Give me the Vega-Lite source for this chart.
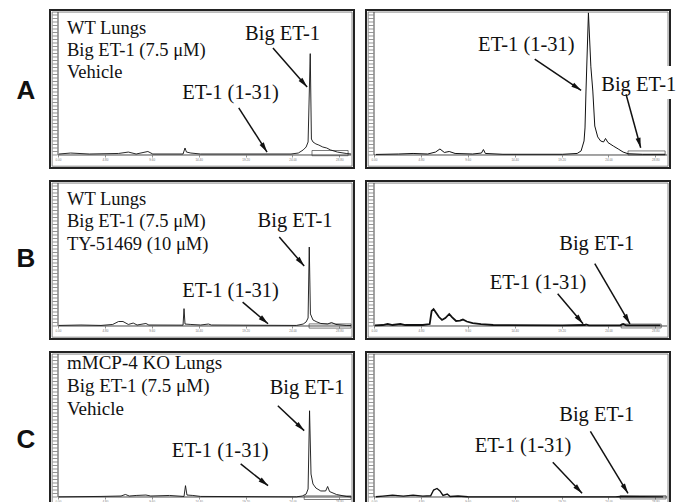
{
"$schema":"https://vega.github.io/schema/vega-lite/v6.json",
"padding":{"left":15,"top":9,"right":0,"bottom":0},
"background":"white",
"config":{"view":{"stroke":"#222","strokeWidth":2}},
"datasets":{
"inner":[{"x1":-0.6,"x2":30.1,"y1":-8.0,"y2":102.1}],
"axlines":[{"x1":0,"y1":0,"x2":30,"y2":0},{"x1":0,"y1":0,"x2":0,"y2":102.1}],
"yticks":[{"x1":-0.55,"x2":-0.05,"u":0},{"x1":-0.55,"x2":-0.05,"u":2.5},{"x1":-0.55,"x2":-0.05,"u":5},{"x1":-0.55,"x2":-0.05,"u":7.5},{"x1":-0.55,"x2":-0.05,"u":10},{"x1":-0.55,"x2":-0.05,"u":12.5},{"x1":-0.55,"x2":-0.05,"u":15},{"x1":-0.55,"x2":-0.05,"u":17.5},{"x1":-0.55,"x2":-0.05,"u":20},{"x1":-0.55,"x2":-0.05,"u":22.5},{"x1":-0.55,"x2":-0.05,"u":25},{"x1":-0.55,"x2":-0.05,"u":27.5},{"x1":-0.55,"x2":-0.05,"u":30},{"x1":-0.55,"x2":-0.05,"u":32.5},{"x1":-0.55,"x2":-0.05,"u":35},{"x1":-0.55,"x2":-0.05,"u":37.5},{"x1":-0.55,"x2":-0.05,"u":40},{"x1":-0.55,"x2":-0.05,"u":42.5},{"x1":-0.55,"x2":-0.05,"u":45},{"x1":-0.55,"x2":-0.05,"u":47.5},{"x1":-0.55,"x2":-0.05,"u":50},{"x1":-0.55,"x2":-0.05,"u":52.5},{"x1":-0.55,"x2":-0.05,"u":55},{"x1":-0.55,"x2":-0.05,"u":57.5},{"x1":-0.55,"x2":-0.05,"u":60},{"x1":-0.55,"x2":-0.05,"u":62.5},{"x1":-0.55,"x2":-0.05,"u":65},{"x1":-0.55,"x2":-0.05,"u":67.5},{"x1":-0.55,"x2":-0.05,"u":70},{"x1":-0.55,"x2":-0.05,"u":72.5},{"x1":-0.55,"x2":-0.05,"u":75},{"x1":-0.55,"x2":-0.05,"u":77.5},{"x1":-0.55,"x2":-0.05,"u":80},{"x1":-0.55,"x2":-0.05,"u":82.5},{"x1":-0.55,"x2":-0.05,"u":85},{"x1":-0.55,"x2":-0.05,"u":87.5},{"x1":-0.55,"x2":-0.05,"u":90},{"x1":-0.55,"x2":-0.05,"u":92.5},{"x1":-0.55,"x2":-0.05,"u":95},{"x1":-0.55,"x2":-0.05,"u":97.5},{"x1":-0.55,"x2":-0.05,"u":100}],
"trAL":[{"t":0.1,"u":0.7},{"t":1.3,"u":1.4},{"t":3.2,"u":0.7},{"t":6.2,"u":1.1},{"t":7.2,"u":2.1},{"t":8.0,"u":0.7},{"t":9.2,"u":2.5},{"t":9.7,"u":0.7},{"t":12.8,"u":0.7},{"t":13.0,"u":5.0},{"t":13.15,"u":2.1},{"t":13.6,"u":1.4},{"t":14.6,"u":0.7},{"t":23.85,"u":0.7},{"t":24.6,"u":1.4},{"t":25.1,"u":3.6},{"t":25.4,"u":5.7},{"t":25.6,"u":9.3},{"t":25.82,"u":72.4},{"t":25.94,"u":11.4},{"t":26.1,"u":9.3},{"t":26.4,"u":7.9},{"t":26.7,"u":7.1},{"t":27.1,"u":5.7},{"t":27.5,"u":5.0},{"t":27.9,"u":3.6},{"t":28.6,"u":2.1},{"t":29.5,"u":1.1},{"t":30.0,"u":0.7}],
"trAR":[{"t":0.2,"u":0.4},{"t":2.5,"u":0.7},{"t":4.0,"u":1.1},{"t":5.5,"u":0.7},{"t":6.3,"u":2.1},{"t":6.75,"u":4.3},{"t":7.2,"u":1.8},{"t":7.7,"u":2.5},{"t":8.3,"u":1.1},{"t":10.1,"u":0.7},{"t":11.0,"u":1.4},{"t":11.2,"u":3.9},{"t":11.4,"u":1.1},{"t":13.2,"u":0.5},{"t":19.3,"u":0.5},{"t":20.8,"u":1.1},{"t":21.2,"u":2.9},{"t":21.5,"u":10},{"t":21.6,"u":19.3},{"t":21.7,"u":45.7},{"t":21.95,"u":101.5},{"t":22.2,"u":63},{"t":22.4,"u":45.7},{"t":22.6,"u":20.7},{"t":22.9,"u":12.9},{"t":23.2,"u":10},{"t":23.5,"u":9.3},{"t":23.7,"u":11.8},{"t":23.95,"u":8.9},{"t":24.5,"u":6.4},{"t":25.0,"u":4.3},{"t":25.5,"u":2.1},{"t":26.0,"u":0.9},{"t":27.5,"u":0.5},{"t":29.8,"u":0.5}],
"trBL":[{"t":0.1,"u":0.4},{"t":2.35,"u":0.7},{"t":4.4,"u":0.4},{"t":5.6,"u":1.1},{"t":6.2,"u":3.2},{"t":6.65,"u":3.2},{"t":7.2,"u":1.1},{"t":7.7,"u":2.1},{"t":8.1,"u":0.7},{"t":9.0,"u":1.8},{"t":9.3,"u":0.7},{"t":12.8,"u":0.6},{"t":12.9,"u":12.4},{"t":13.0,"u":1.4},{"t":13.6,"u":1.1},{"t":14.6,"u":0.7},{"t":15.4,"u":1.4},{"t":15.7,"u":0.7},{"t":24.4,"u":0.4},{"t":25.1,"u":1.4},{"t":25.4,"u":2.9},{"t":25.6,"u":5.7},{"t":25.72,"u":56.4},{"t":25.84,"u":8.6},{"t":26.1,"u":4.3},{"t":26.5,"u":2.9},{"t":26.9,"u":1.8},{"t":27.6,"u":1.4},{"t":28.0,"u":2.5},{"t":28.45,"u":1.1},{"t":29.5,"u":0.4},{"t":30.0,"u":0.4}],
"trBR":[{"t":0.1,"u":0.4},{"t":0.9,"u":0.7},{"t":1.4,"u":1.4},{"t":1.9,"u":0.7},{"t":2.7,"u":1.4},{"t":3.2,"u":0.7},{"t":5.0,"u":0.7},{"t":5.7,"u":1.4},{"t":5.9,"u":10.7},{"t":6.1,"u":12.1},{"t":6.3,"u":10},{"t":6.65,"u":6.4},{"t":6.96,"u":4.3},{"t":7.3,"u":5.7},{"t":7.7,"u":8.6},{"t":7.98,"u":6.4},{"t":8.4,"u":3.6},{"t":8.8,"u":3.9},{"t":9.1,"u":4.6},{"t":9.5,"u":3.2},{"t":10.1,"u":2.1},{"t":10.95,"u":1.4},{"t":12.2,"u":0.7},{"t":19.3,"u":0.4},{"t":21.6,"u":0.7},{"t":21.7,"u":1.1},{"t":22.0,"u":0.4},{"t":25.2,"u":0.4},{"t":25.5,"u":1.4},{"t":25.8,"u":0.4},{"t":29.3,"u":0.4}],
"trCL":[{"t":0.1,"u":0.1},{"t":4.4,"u":0.4},{"t":6.45,"u":0.7},{"t":6.9,"u":1.8},{"t":7.3,"u":0.7},{"t":8.0,"u":1.1},{"t":9.0,"u":1.4},{"t":9.5,"u":0.7},{"t":11.4,"u":1.1},{"t":12.9,"u":0.4},{"t":13.05,"u":8.1},{"t":13.2,"u":1.4},{"t":13.8,"u":1.1},{"t":14.6,"u":0.4},{"t":24.4,"u":0.1},{"t":25.0,"u":0.7},{"t":25.4,"u":2.1},{"t":25.6,"u":5.7},{"t":25.75,"u":61.6},{"t":25.9,"u":16.4},{"t":26.1,"u":9.3},{"t":26.4,"u":6.4},{"t":26.9,"u":4.3},{"t":27.4,"u":4.3},{"t":27.6,"u":7.5},{"t":27.8,"u":3.9},{"t":28.5,"u":1.8},{"t":29.5,"u":0.4},{"t":30.0,"u":0.1}],
"trCR":[{"t":0.2,"u":0.2},{"t":0.9,"u":0.6},{"t":1.9,"u":1.3},{"t":3.0,"u":0.6},{"t":4.0,"u":1.3},{"t":5.0,"u":0.6},{"t":5.8,"u":0.9},{"t":6.1,"u":5.0},{"t":6.45,"u":6.1},{"t":6.75,"u":4.3},{"t":7.06,"u":1.1},{"t":7.5,"u":2.1},{"t":7.8,"u":0.4},{"t":8.6,"u":0.7},{"t":9.6,"u":0.2},{"t":13.2,"u":0.1},{"t":19.3,"u":0.1},{"t":24.7,"u":0.1},{"t":25.2,"u":0.4},{"t":29.6,"u":0.1}],
"boxAL":[{"x1":26.0,"x2":29.7,"y1":-0.5,"y2":3.2}],
"boxAR":[{"x1":26.0,"x2":29.8,"y1":0,"y2":2.9}],
"boxBL":[{"x1":25.7,"x2":30.0,"y1":-1.5,"y2":1.5}],
"boxBR":[{"x1":25.3,"x2":29.4,"y1":-1.4,"y2":1.4}],
"boxCL":[{"x1":25.2,"x2":30.0,"y1":-1.8,"y2":0.8}],
"boxCR":[{"x1":25.2,"x2":29.9,"y1":-1.4,"y2":0.9}],
"descA":[{"t":0.92,"u":86.2,"text":"WT Lungs"},{"t":0.92,"u":70.7,"text":"Big ET-1 (7.5 μM)"},{"t":0.92,"u":54.8,"text":"Vehicle"}],
"descB":[{"t":0.92,"u":86.2,"text":"WT Lungs"},{"t":0.92,"u":70.7,"text":"Big ET-1 (7.5 μM)"},{"t":0.92,"u":54.0,"text":"TY-51469 (10 μM)"}],
"descC":[{"t":0.92,"u":91.4,"text":"mMCP-4 KO Lungs"},{"t":0.92,"u":74.8,"text":"Big ET-1 (7.5 μM)"},{"t":0.92,"u":58.8,"text":"Vehicle"}],
"annAL":[{"t":22.98,"u":81.9,"text":"Big ET-1"},{"t":17.66,"u":39.8,"text":"ET-1 (1-31)"}],
"annAR":[{"t":15.6,"u":74.3,"text":"ET-1 (1-31)"},{"t":27.1,"u":45.7,"text":"Big ET-1"}],
"annBL":[{"t":24.26,"u":70.7,"text":"Big ET-1"},{"t":17.66,"u":20.7,"text":"ET-1 (1-31)"}],
"annBR":[{"t":22.8,"u":54.0,"text":"Big ET-1"},{"t":16.8,"u":26.6,"text":"ET-1 (1-31)"}],
"annCL":[{"t":25.5,"u":73.6,"text":"Big ET-1"},{"t":16.6,"u":28.4,"text":"ET-1 (1-31)"}],
"annCR":[{"t":22.8,"u":54.5,"text":"Big ET-1"},{"t":15.25,"u":31.9,"text":"ET-1 (1-31)"}],
"arrAL":[{"x1":22.0,"y1":76.4,"x2":25.5,"y2":48.6},{"x1":18.5,"y1":33.6,"x2":21.4,"y2":2.1}],
"arrAR":[{"x1":16.45,"y1":68.4,"x2":21.2,"y2":46.2},{"x1":25.8,"y1":43.4,"x2":27.3,"y2":5.2}],
"arrBL":[{"x1":22.65,"y1":63.6,"x2":25.2,"y2":42.9},{"x1":18.9,"y1":17.1,"x2":21.5,"y2":1.6}],
"arrBR":[{"x1":22.6,"y1":44.5,"x2":26.2,"y2":1.6},{"x1":18.8,"y1":23.1,"x2":21.4,"y2":1.6}],
"arrCL":[{"x1":22.5,"y1":65.2,"x2":25.2,"y2":47.4},{"x1":18.7,"y1":23.6,"x2":21.5,"y2":8.1}],
"arrCR":[{"x1":22.15,"y1":46.9,"x2":26.0,"y2":2.6},{"x1":18.3,"y1":24.8,"x2":21.3,"y2":2.6}],
"maskAR":[{"x1":22.9,"x2":31.4,"y1":40,"y2":63.6}],
"letA":[{"t":-3.3,"u":45.4,"text":"A"}],
"letB":[{"t":-3.3,"u":47.5,"text":"B"}],
"letC":[{"t":-3.3,"u":40.7,"text":"C"}]
},
"spacing":11,
"vconcat":[
{"spacing":10,"hconcat":[
{"width":304,"height":158,"layer":[
{"data":{"name":"inner"},"mark":{"type":"rect","filled":false,"stroke":"#666","strokeWidth":0.8},"encoding":{"x":{"field":"x1","type":"quantitative","title":null,"scale":{"domain":[-0.82,30.3],"nice":false,"zero":false},"axis":{"orient":"bottom","offset":-13,"values":[0,1.2,2.4,3.6,4.8,6,7.2,8.4,9.6,10.8,12,13.2,14.4,15.6,16.8,18,19.2,20.4,21.6,22.8,24,25.2,26.4,27.6,28.8,30],"domain":false,"grid":false,"tickSize":2,"tickColor":"#444","tickWidth":0.6,"labelFontSize":3,"labelColor":"#777","labelPadding":1,"labelOverlap":false,"labelFlush":false,"format":".2f"}},"x2":{"field":"x2"},"y":{"field":"y1","type":"quantitative","title":null,"scale":{"domain":[-9.29,103.57],"nice":false,"zero":false},"axis":null},"y2":{"field":"y2"}}},
{"data":{"name":"axlines"},"mark":{"type":"rule","color":"#333","strokeWidth":0.9},"encoding":{"x":{"field":"x1","type":"quantitative","title":null},"x2":{"field":"x2"},"y":{"field":"y1","type":"quantitative","title":null},"y2":{"field":"y2"}}},
{"data":{"name":"yticks"},"mark":{"type":"rule","color":"#666","strokeWidth":0.7},"encoding":{"x":{"field":"x1","type":"quantitative","title":null},"x2":{"field":"x2"},"y":{"field":"u","type":"quantitative","title":null}}},
{"data":{"name":"boxAL"},"mark":{"type":"rect","filled":false,"stroke":"#444","strokeWidth":0.7},"encoding":{"x":{"field":"x1","type":"quantitative","title":null},"x2":{"field":"x2"},"y":{"field":"y1","type":"quantitative","title":null},"y2":{"field":"y2"}}},
{"data":{"name":"trAL"},"mark":{"type":"line","color":"#111","strokeWidth":0.9},"encoding":{"x":{"field":"t","type":"quantitative","title":null},"y":{"field":"u","type":"quantitative","title":null}}},
{"data":{"name":"descA"},"mark":{"type":"text","font":"Liberation Serif","fontSize":18.5,"align":"left","baseline":"alphabetic","color":"#111"},"encoding":{"x":{"field":"t","type":"quantitative","title":null},"y":{"field":"u","type":"quantitative","title":null},"text":{"field":"text"}}},
{"data":{"name":"annAL"},"mark":{"type":"text","font":"Liberation Serif","fontSize":20.5,"align":"center","baseline":"alphabetic","color":"#111"},"encoding":{"x":{"field":"t","type":"quantitative","title":null},"y":{"field":"u","type":"quantitative","title":null},"text":{"field":"text"}}},
{"data":{"name":"arrAL"},"mark":{"type":"rule","color":"#111","strokeWidth":1.5},"encoding":{"x":{"field":"x1","type":"quantitative","title":null},"x2":{"field":"x2"},"y":{"field":"y1","type":"quantitative","title":null},"y2":{"field":"y2"}}},
{"data":{"name":"arrAL"},"transform":[{"calculate":"atan2((datum.x2-datum.x1)*9.77,(datum.y2-datum.y1)*1.4)*180/PI","as":"ang"}],"mark":{"type":"point","shape":"M0,0L-0.5,2L0.5,2Z","filled":true,"color":"#111","size":100,"opacity":1},"encoding":{"x":{"field":"x2","type":"quantitative","title":null},"y":{"field":"y2","type":"quantitative","title":null},"angle":{"field":"ang","type":"quantitative","scale":null}}},
{"data":{"name":"letA"},"mark":{"type":"text","font":"Liberation Sans","fontSize":26,"fontWeight":"bold","align":"center","baseline":"middle","color":"#111"},"encoding":{"x":{"field":"t","type":"quantitative","title":null},"y":{"field":"u","type":"quantitative","title":null},"text":{"field":"text"}}}
]},
{"width":304,"height":158,"layer":[
{"data":{"name":"inner"},"mark":{"type":"rect","filled":false,"stroke":"#666","strokeWidth":0.8},"encoding":{"x":{"field":"x1","type":"quantitative","title":null,"scale":{"domain":[-0.82,30.3],"nice":false,"zero":false},"axis":{"orient":"bottom","offset":-13,"values":[0,1.2,2.4,3.6,4.8,6,7.2,8.4,9.6,10.8,12,13.2,14.4,15.6,16.8,18,19.2,20.4,21.6,22.8,24,25.2,26.4,27.6,28.8,30],"domain":false,"grid":false,"tickSize":2,"tickColor":"#444","tickWidth":0.6,"labelFontSize":3,"labelColor":"#777","labelPadding":1,"labelOverlap":false,"labelFlush":false,"format":".2f"}},"x2":{"field":"x2"},"y":{"field":"y1","type":"quantitative","title":null,"scale":{"domain":[-9.29,103.57],"nice":false,"zero":false},"axis":null},"y2":{"field":"y2"}}},
{"data":{"name":"axlines"},"mark":{"type":"rule","color":"#333","strokeWidth":0.9},"encoding":{"x":{"field":"x1","type":"quantitative","title":null},"x2":{"field":"x2"},"y":{"field":"y1","type":"quantitative","title":null},"y2":{"field":"y2"}}},
{"data":{"name":"yticks"},"mark":{"type":"rule","color":"#666","strokeWidth":0.7},"encoding":{"x":{"field":"x1","type":"quantitative","title":null},"x2":{"field":"x2"},"y":{"field":"u","type":"quantitative","title":null}}},
{"data":{"name":"boxAR"},"mark":{"type":"rect","filled":false,"stroke":"#444","strokeWidth":0.7},"encoding":{"x":{"field":"x1","type":"quantitative","title":null},"x2":{"field":"x2"},"y":{"field":"y1","type":"quantitative","title":null},"y2":{"field":"y2"}}},
{"data":{"name":"trAR"},"mark":{"type":"line","color":"#111","strokeWidth":1.0},"encoding":{"x":{"field":"t","type":"quantitative","title":null},"y":{"field":"u","type":"quantitative","title":null}}},
{"data":{"name":"maskAR"},"mark":{"type":"rect","color":"white","opacity":1},"encoding":{"x":{"field":"x1","type":"quantitative","title":null},"x2":{"field":"x2"},"y":{"field":"y1","type":"quantitative","title":null},"y2":{"field":"y2"}}},
{"data":{"name":"annAR"},"mark":{"type":"text","font":"Liberation Serif","fontSize":20.5,"align":"center","baseline":"alphabetic","color":"#111"},"encoding":{"x":{"field":"t","type":"quantitative","title":null},"y":{"field":"u","type":"quantitative","title":null},"text":{"field":"text"}}},
{"data":{"name":"arrAR"},"mark":{"type":"rule","color":"#111","strokeWidth":1.5},"encoding":{"x":{"field":"x1","type":"quantitative","title":null},"x2":{"field":"x2"},"y":{"field":"y1","type":"quantitative","title":null},"y2":{"field":"y2"}}},
{"data":{"name":"arrAR"},"transform":[{"calculate":"atan2((datum.x2-datum.x1)*9.77,(datum.y2-datum.y1)*1.4)*180/PI","as":"ang"}],"mark":{"type":"point","shape":"M0,0L-0.5,2L0.5,2Z","filled":true,"color":"#111","size":100,"opacity":1},"encoding":{"x":{"field":"x2","type":"quantitative","title":null},"y":{"field":"y2","type":"quantitative","title":null},"angle":{"field":"ang","type":"quantitative","scale":null}}}
]}
]},
{"spacing":10,"hconcat":[
{"width":304,"height":158,"layer":[
{"data":{"name":"inner"},"mark":{"type":"rect","filled":false,"stroke":"#666","strokeWidth":0.8},"encoding":{"x":{"field":"x1","type":"quantitative","title":null,"scale":{"domain":[-0.82,30.3],"nice":false,"zero":false},"axis":{"orient":"bottom","offset":-13,"values":[0,1.2,2.4,3.6,4.8,6,7.2,8.4,9.6,10.8,12,13.2,14.4,15.6,16.8,18,19.2,20.4,21.6,22.8,24,25.2,26.4,27.6,28.8,30],"domain":false,"grid":false,"tickSize":2,"tickColor":"#444","tickWidth":0.6,"labelFontSize":3,"labelColor":"#777","labelPadding":1,"labelOverlap":false,"labelFlush":false,"format":".2f"}},"x2":{"field":"x2"},"y":{"field":"y1","type":"quantitative","title":null,"scale":{"domain":[-9.29,103.57],"nice":false,"zero":false},"axis":null},"y2":{"field":"y2"}}},
{"data":{"name":"axlines"},"mark":{"type":"rule","color":"#333","strokeWidth":0.9},"encoding":{"x":{"field":"x1","type":"quantitative","title":null},"x2":{"field":"x2"},"y":{"field":"y1","type":"quantitative","title":null},"y2":{"field":"y2"}}},
{"data":{"name":"yticks"},"mark":{"type":"rule","color":"#666","strokeWidth":0.7},"encoding":{"x":{"field":"x1","type":"quantitative","title":null},"x2":{"field":"x2"},"y":{"field":"u","type":"quantitative","title":null}}},
{"data":{"name":"boxBL"},"mark":{"type":"rect","filled":false,"stroke":"#444","strokeWidth":0.7},"encoding":{"x":{"field":"x1","type":"quantitative","title":null},"x2":{"field":"x2"},"y":{"field":"y1","type":"quantitative","title":null},"y2":{"field":"y2"}}},
{"data":{"name":"trBL"},"mark":{"type":"line","color":"#111","strokeWidth":0.9},"encoding":{"x":{"field":"t","type":"quantitative","title":null},"y":{"field":"u","type":"quantitative","title":null}}},
{"data":{"name":"descB"},"mark":{"type":"text","font":"Liberation Serif","fontSize":18.5,"align":"left","baseline":"alphabetic","color":"#111"},"encoding":{"x":{"field":"t","type":"quantitative","title":null},"y":{"field":"u","type":"quantitative","title":null},"text":{"field":"text"}}},
{"data":{"name":"annBL"},"mark":{"type":"text","font":"Liberation Serif","fontSize":20.5,"align":"center","baseline":"alphabetic","color":"#111"},"encoding":{"x":{"field":"t","type":"quantitative","title":null},"y":{"field":"u","type":"quantitative","title":null},"text":{"field":"text"}}},
{"data":{"name":"arrBL"},"mark":{"type":"rule","color":"#111","strokeWidth":1.5},"encoding":{"x":{"field":"x1","type":"quantitative","title":null},"x2":{"field":"x2"},"y":{"field":"y1","type":"quantitative","title":null},"y2":{"field":"y2"}}},
{"data":{"name":"arrBL"},"transform":[{"calculate":"atan2((datum.x2-datum.x1)*9.77,(datum.y2-datum.y1)*1.4)*180/PI","as":"ang"}],"mark":{"type":"point","shape":"M0,0L-0.5,2L0.5,2Z","filled":true,"color":"#111","size":100,"opacity":1},"encoding":{"x":{"field":"x2","type":"quantitative","title":null},"y":{"field":"y2","type":"quantitative","title":null},"angle":{"field":"ang","type":"quantitative","scale":null}}},
{"data":{"name":"letB"},"mark":{"type":"text","font":"Liberation Sans","fontSize":26,"fontWeight":"bold","align":"center","baseline":"middle","color":"#111"},"encoding":{"x":{"field":"t","type":"quantitative","title":null},"y":{"field":"u","type":"quantitative","title":null},"text":{"field":"text"}}}
]},
{"width":304,"height":158,"layer":[
{"data":{"name":"inner"},"mark":{"type":"rect","filled":false,"stroke":"#666","strokeWidth":0.8},"encoding":{"x":{"field":"x1","type":"quantitative","title":null,"scale":{"domain":[-0.82,30.3],"nice":false,"zero":false},"axis":{"orient":"bottom","offset":-13,"values":[0,1.2,2.4,3.6,4.8,6,7.2,8.4,9.6,10.8,12,13.2,14.4,15.6,16.8,18,19.2,20.4,21.6,22.8,24,25.2,26.4,27.6,28.8,30],"domain":false,"grid":false,"tickSize":2,"tickColor":"#444","tickWidth":0.6,"labelFontSize":3,"labelColor":"#777","labelPadding":1,"labelOverlap":false,"labelFlush":false,"format":".2f"}},"x2":{"field":"x2"},"y":{"field":"y1","type":"quantitative","title":null,"scale":{"domain":[-9.29,103.57],"nice":false,"zero":false},"axis":null},"y2":{"field":"y2"}}},
{"data":{"name":"axlines"},"mark":{"type":"rule","color":"#333","strokeWidth":0.9},"encoding":{"x":{"field":"x1","type":"quantitative","title":null},"x2":{"field":"x2"},"y":{"field":"y1","type":"quantitative","title":null},"y2":{"field":"y2"}}},
{"data":{"name":"yticks"},"mark":{"type":"rule","color":"#666","strokeWidth":0.7},"encoding":{"x":{"field":"x1","type":"quantitative","title":null},"x2":{"field":"x2"},"y":{"field":"u","type":"quantitative","title":null}}},
{"data":{"name":"boxBR"},"mark":{"type":"rect","filled":false,"stroke":"#444","strokeWidth":0.7},"encoding":{"x":{"field":"x1","type":"quantitative","title":null},"x2":{"field":"x2"},"y":{"field":"y1","type":"quantitative","title":null},"y2":{"field":"y2"}}},
{"data":{"name":"trBR"},"mark":{"type":"line","color":"#111","strokeWidth":1.8},"encoding":{"x":{"field":"t","type":"quantitative","title":null},"y":{"field":"u","type":"quantitative","title":null}}},
{"data":{"name":"annBR"},"mark":{"type":"text","font":"Liberation Serif","fontSize":20.5,"align":"center","baseline":"alphabetic","color":"#111"},"encoding":{"x":{"field":"t","type":"quantitative","title":null},"y":{"field":"u","type":"quantitative","title":null},"text":{"field":"text"}}},
{"data":{"name":"arrBR"},"mark":{"type":"rule","color":"#111","strokeWidth":1.5},"encoding":{"x":{"field":"x1","type":"quantitative","title":null},"x2":{"field":"x2"},"y":{"field":"y1","type":"quantitative","title":null},"y2":{"field":"y2"}}},
{"data":{"name":"arrBR"},"transform":[{"calculate":"atan2((datum.x2-datum.x1)*9.77,(datum.y2-datum.y1)*1.4)*180/PI","as":"ang"}],"mark":{"type":"point","shape":"M0,0L-0.5,2L0.5,2Z","filled":true,"color":"#111","size":100,"opacity":1},"encoding":{"x":{"field":"x2","type":"quantitative","title":null},"y":{"field":"y2","type":"quantitative","title":null},"angle":{"field":"ang","type":"quantitative","scale":null}}}
]}
]},
{"spacing":10,"hconcat":[
{"width":304,"height":158,"layer":[
{"data":{"name":"inner"},"mark":{"type":"rect","filled":false,"stroke":"#666","strokeWidth":0.8},"encoding":{"x":{"field":"x1","type":"quantitative","title":null,"scale":{"domain":[-0.82,30.3],"nice":false,"zero":false},"axis":{"orient":"bottom","offset":-13,"values":[0,1.2,2.4,3.6,4.8,6,7.2,8.4,9.6,10.8,12,13.2,14.4,15.6,16.8,18,19.2,20.4,21.6,22.8,24,25.2,26.4,27.6,28.8,30],"domain":false,"grid":false,"tickSize":2,"tickColor":"#444","tickWidth":0.6,"labelFontSize":3,"labelColor":"#777","labelPadding":1,"labelOverlap":false,"labelFlush":false,"format":".2f"}},"x2":{"field":"x2"},"y":{"field":"y1","type":"quantitative","title":null,"scale":{"domain":[-9.29,103.57],"nice":false,"zero":false},"axis":null},"y2":{"field":"y2"}}},
{"data":{"name":"axlines"},"mark":{"type":"rule","color":"#333","strokeWidth":0.9},"encoding":{"x":{"field":"x1","type":"quantitative","title":null},"x2":{"field":"x2"},"y":{"field":"y1","type":"quantitative","title":null},"y2":{"field":"y2"}}},
{"data":{"name":"yticks"},"mark":{"type":"rule","color":"#666","strokeWidth":0.7},"encoding":{"x":{"field":"x1","type":"quantitative","title":null},"x2":{"field":"x2"},"y":{"field":"u","type":"quantitative","title":null}}},
{"data":{"name":"boxCL"},"mark":{"type":"rect","filled":false,"stroke":"#444","strokeWidth":0.7},"encoding":{"x":{"field":"x1","type":"quantitative","title":null},"x2":{"field":"x2"},"y":{"field":"y1","type":"quantitative","title":null},"y2":{"field":"y2"}}},
{"data":{"name":"trCL"},"mark":{"type":"line","color":"#111","strokeWidth":0.9},"encoding":{"x":{"field":"t","type":"quantitative","title":null},"y":{"field":"u","type":"quantitative","title":null}}},
{"data":{"name":"descC"},"mark":{"type":"text","font":"Liberation Serif","fontSize":19,"align":"left","baseline":"alphabetic","color":"#111"},"encoding":{"x":{"field":"t","type":"quantitative","title":null},"y":{"field":"u","type":"quantitative","title":null},"text":{"field":"text"}}},
{"data":{"name":"annCL"},"mark":{"type":"text","font":"Liberation Serif","fontSize":20.5,"align":"center","baseline":"alphabetic","color":"#111"},"encoding":{"x":{"field":"t","type":"quantitative","title":null},"y":{"field":"u","type":"quantitative","title":null},"text":{"field":"text"}}},
{"data":{"name":"arrCL"},"mark":{"type":"rule","color":"#111","strokeWidth":1.5},"encoding":{"x":{"field":"x1","type":"quantitative","title":null},"x2":{"field":"x2"},"y":{"field":"y1","type":"quantitative","title":null},"y2":{"field":"y2"}}},
{"data":{"name":"arrCL"},"transform":[{"calculate":"atan2((datum.x2-datum.x1)*9.77,(datum.y2-datum.y1)*1.4)*180/PI","as":"ang"}],"mark":{"type":"point","shape":"M0,0L-0.5,2L0.5,2Z","filled":true,"color":"#111","size":100,"opacity":1},"encoding":{"x":{"field":"x2","type":"quantitative","title":null},"y":{"field":"y2","type":"quantitative","title":null},"angle":{"field":"ang","type":"quantitative","scale":null}}},
{"data":{"name":"letC"},"mark":{"type":"text","font":"Liberation Sans","fontSize":26,"fontWeight":"bold","align":"center","baseline":"middle","color":"#111"},"encoding":{"x":{"field":"t","type":"quantitative","title":null},"y":{"field":"u","type":"quantitative","title":null},"text":{"field":"text"}}}
]},
{"width":304,"height":158,"layer":[
{"data":{"name":"inner"},"mark":{"type":"rect","filled":false,"stroke":"#666","strokeWidth":0.8},"encoding":{"x":{"field":"x1","type":"quantitative","title":null,"scale":{"domain":[-0.82,30.3],"nice":false,"zero":false},"axis":{"orient":"bottom","offset":-13,"values":[0,1.2,2.4,3.6,4.8,6,7.2,8.4,9.6,10.8,12,13.2,14.4,15.6,16.8,18,19.2,20.4,21.6,22.8,24,25.2,26.4,27.6,28.8,30],"domain":false,"grid":false,"tickSize":2,"tickColor":"#444","tickWidth":0.6,"labelFontSize":3,"labelColor":"#777","labelPadding":1,"labelOverlap":false,"labelFlush":false,"format":".2f"}},"x2":{"field":"x2"},"y":{"field":"y1","type":"quantitative","title":null,"scale":{"domain":[-9.29,103.57],"nice":false,"zero":false},"axis":null},"y2":{"field":"y2"}}},
{"data":{"name":"axlines"},"mark":{"type":"rule","color":"#333","strokeWidth":0.9},"encoding":{"x":{"field":"x1","type":"quantitative","title":null},"x2":{"field":"x2"},"y":{"field":"y1","type":"quantitative","title":null},"y2":{"field":"y2"}}},
{"data":{"name":"yticks"},"mark":{"type":"rule","color":"#666","strokeWidth":0.7},"encoding":{"x":{"field":"x1","type":"quantitative","title":null},"x2":{"field":"x2"},"y":{"field":"u","type":"quantitative","title":null}}},
{"data":{"name":"boxCR"},"mark":{"type":"rect","filled":false,"stroke":"#444","strokeWidth":0.7},"encoding":{"x":{"field":"x1","type":"quantitative","title":null},"x2":{"field":"x2"},"y":{"field":"y1","type":"quantitative","title":null},"y2":{"field":"y2"}}},
{"data":{"name":"trCR"},"mark":{"type":"line","color":"#111","strokeWidth":1.4},"encoding":{"x":{"field":"t","type":"quantitative","title":null},"y":{"field":"u","type":"quantitative","title":null}}},
{"data":{"name":"annCR"},"mark":{"type":"text","font":"Liberation Serif","fontSize":20.5,"align":"center","baseline":"alphabetic","color":"#111"},"encoding":{"x":{"field":"t","type":"quantitative","title":null},"y":{"field":"u","type":"quantitative","title":null},"text":{"field":"text"}}},
{"data":{"name":"arrCR"},"mark":{"type":"rule","color":"#111","strokeWidth":1.5},"encoding":{"x":{"field":"x1","type":"quantitative","title":null},"x2":{"field":"x2"},"y":{"field":"y1","type":"quantitative","title":null},"y2":{"field":"y2"}}},
{"data":{"name":"arrCR"},"transform":[{"calculate":"atan2((datum.x2-datum.x1)*9.77,(datum.y2-datum.y1)*1.4)*180/PI","as":"ang"}],"mark":{"type":"point","shape":"M0,0L-0.5,2L0.5,2Z","filled":true,"color":"#111","size":100,"opacity":1},"encoding":{"x":{"field":"x2","type":"quantitative","title":null},"y":{"field":"y2","type":"quantitative","title":null},"angle":{"field":"ang","type":"quantitative","scale":null}}}
]}
]}
]
}
